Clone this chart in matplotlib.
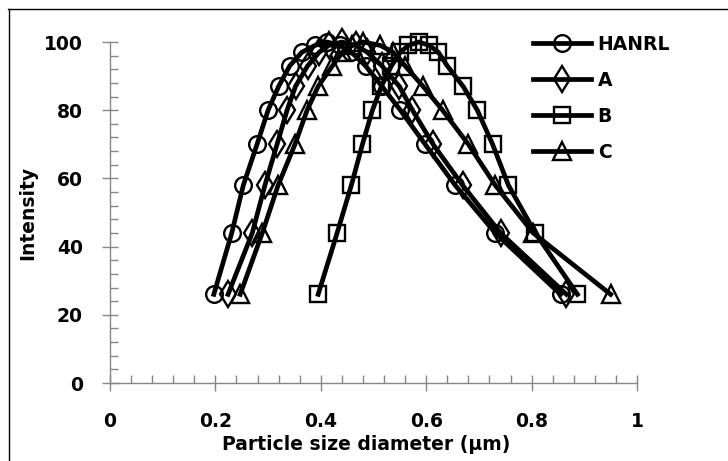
import matplotlib
matplotlib.use("Agg")
import matplotlib.pyplot as plt
from matplotlib.lines import Line2D
from matplotlib.ticker import MultipleLocator

intensity = [26, 44, 58, 70, 80, 87, 93, 97, 99, 100, 99, 97, 93, 87, 80, 70, 58, 44, 26]
x_hanrl = [0.197, 0.231, 0.253, 0.279, 0.300, 0.320, 0.341, 0.364, 0.389, 0.412,
           0.436, 0.458, 0.485, 0.516, 0.551, 0.598, 0.655, 0.731, 0.855]
x_a = [0.224, 0.270, 0.294, 0.317, 0.336, 0.352, 0.375, 0.397, 0.415, 0.440,
       0.467, 0.488, 0.516, 0.549, 0.574, 0.613, 0.669, 0.741, 0.866]
x_b = [0.395, 0.431, 0.458, 0.479, 0.498, 0.515, 0.534, 0.551, 0.566, 0.586,
       0.606, 0.623, 0.640, 0.670, 0.697, 0.726, 0.756, 0.807, 0.887]
x_c = [0.247, 0.289, 0.319, 0.351, 0.374, 0.395, 0.422, 0.441, 0.460, 0.480,
       0.513, 0.537, 0.560, 0.594, 0.631, 0.680, 0.731, 0.803, 0.950]
series_names = ["HANRL", "A", "B", "C"]
x_ticks = [0, 0.2, 0.4, 0.6, 0.8, 1]
x_tick_labels = ["0", "0.2", "0.4", "0.6", "0.8", "1"]
y_ticks = [0, 20, 40, 60, 80, 100]

W, H = 728, 461
fig = plt.figure(figsize=(W / 100, H / 100), dpi=100)
ax = fig.add_axes([110 / W, 1 - 383 / H, (637 - 110) / W, (383 - 42) / H])

styles = [("o", 12.0), ("d", 13.0), ("s", 12.0), ("^", 12.5)]
for xs, name, (mk, ms) in zip([x_hanrl, x_a, x_b, x_c], series_names, styles):
    ax.plot(xs, intensity, color="black", lw=3.4, marker=mk, ms=ms,
            mfc="none", mec="black", mew=1.7, label=name, clip_on=False,
            solid_joinstyle="round")

ax.set_xlim(0, 1)
ax.set_ylim(0, 100)
ax.set_xticks(x_ticks)
ax.set_xticklabels(x_tick_labels)
ax.set_yticks(y_ticks)
ax.xaxis.set_minor_locator(MultipleLocator(0.04))
ax.yaxis.set_minor_locator(MultipleLocator(4))

axis_gray = "#868686"
for s in ["top", "right"]:
    ax.spines[s].set_visible(False)
for s in ["left", "bottom"]:
    ax.spines[s].set_color(axis_gray)
    ax.spines[s].set_linewidth(1.0)

ax.tick_params(which="major", direction="inout", length=11, width=1.0,
               color=axis_gray, labelsize=13.5)
ax.tick_params(axis="x", which="major", pad=15.5)
ax.tick_params(axis="y", which="major", pad=14)
ax.tick_params(which="minor", direction="in", length=5.5, width=1.0,
               color=axis_gray)
for lab in ax.get_xticklabels() + ax.get_yticklabels():
    lab.set_fontweight("bold")

ax.set_xlabel("Particle size diameter (\u00b5m)", fontsize=13.5,
              fontweight="bold", labelpad=3)
ax.set_ylabel("Intensity", fontsize=13.5, fontweight="bold", labelpad=5)
ax.xaxis.set_label_coords((366 - 110) / (637 - 110), -0.0, transform=None) if False else None
ax.xaxis.label.set_x((366 - 110) / (637 - 110))

leg = ax.legend(loc="upper left", bbox_to_anchor=(533 / W, 1 - 35 / H),
                bbox_transform=fig.transFigure, frameon=False,
                prop={"size": 13.5, "weight": "bold"}, handlelength=3.1,
                handletextpad=0.35, labelspacing=0.9, borderpad=0,
                borderaxespad=0)

# outer chart frame (left and top edges visible in the crop)
fig.add_artist(Line2D([8.5 / W, 8.5 / W], [0, 1 - 9.5 / H],
                      transform=fig.transFigure, color="black", lw=1.0))
fig.add_artist(Line2D([8 / W, 1], [1 - 9.5 / H, 1 - 9.5 / H],
                      transform=fig.transFigure, color="black", lw=1.0))

fig.savefig("out.png", dpi=100)
